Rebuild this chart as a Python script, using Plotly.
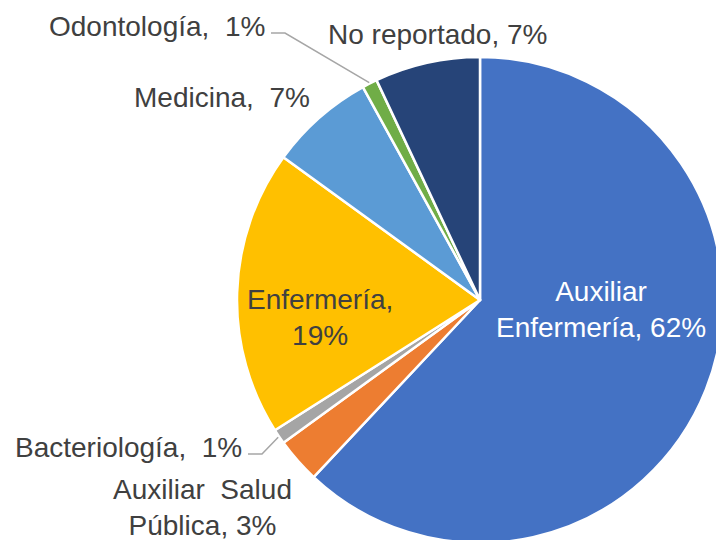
import math
import plotly.graph_objects as go

# ---- data ----
categories = ["Auxiliar Enfermería", "Auxiliar Salud Pública", "Bacteriología",
              "Enfermería", "Medicina", "Odontología", "No reportado"]
percentages = [62, 3, 1, 19, 7, 1, 7]
label_templates = ["Auxiliar<br>Enfermería, {}%", "Auxiliar  Salud<br>Pública, {}%",
                   "Bacteriología,  {}%", "Enfermería,<br>{}%", "Medicina,  {}%",
                   "Odontología,  {}%", "No reportado, {}%"]

# ---- style ----
colors = ["#4472C4", "#ED7D31", "#A5A5A5", "#FFC000", "#5B9BD5", "#70AD47", "#264478"]
W, H = 724, 544          # slightly larger than the window: pie is clipped at right/bottom
CX, CY, R = 480, 300, 243
FONT = "Liberation Sans, Arial, sans-serif"
FS = 28
# label placement (pixel anchor, xanchor, colour, leader?)
label_layout = [
    (601, 309, "center", "white", False),
    (203, 507, "center", "#404040", False),
    (244, 447, "right", "#404040", True),
    (320, 317, "center", "#404040", False),
    (222, 97, "center", "#404040", False),
    (267, 26, "right", "#404040", True),
    (437, 34, "center", "#404040", False),
]

def px(x):
    return x / W

def py(y):
    return 1 - y / H

fig = go.Figure(go.Pie(
    labels=categories,
    values=percentages,
    sort=False,
    direction="clockwise",
    rotation=0,
    textinfo="none",
    hoverinfo="skip",
    marker=dict(colors=colors, line=dict(color="white", width=2.5)),
    domain=dict(x=[px(CX - R), px(CX + R)], y=[py(CY + R), py(CY - R)]),
    showlegend=False,
))

total = sum(percentages)
cum = 0
annotations = []
shapes = []
for val, tmpl, (lx, ly, xa, col, leader) in zip(percentages, label_templates, label_layout):
    mid = (cum + val / 2) / total * 2 * math.pi
    cum += val
    annotations.append(dict(
        x=px(lx), y=py(ly), xref="paper", yref="paper",
        text=tmpl.format(val), showarrow=False,
        xanchor=xa, yanchor="middle", align="center",
        font=dict(family=FONT, size=FS, color=col),
    ))
    if leader:
        ex = CX + (R + 1) * math.sin(mid)
        ey = CY - (R + 1) * math.cos(mid)
        x0 = lx + 4
        y0 = ly + 7
        x1 = x0 + 14
        shapes.append(dict(
            type="path", xref="paper", yref="paper",
            path=f"M {px(x0)},{py(y0)} L {px(x1)},{py(y0)} L {px(ex)},{py(ey)}",
            line=dict(color="#A6A6A6", width=1.5),
        ))

fig.update_layout(
    width=W, height=H,
    margin=dict(l=0, r=0, t=0, b=0),
    paper_bgcolor="white", plot_bgcolor="white",
    annotations=annotations, shapes=shapes,
)

fig.write_html(
    "out.html",
    config={"displayModeBar": False},
    post_script="document.body.style.margin='0';document.body.style.overflow='hidden';"
                "document.documentElement.style.overflow='hidden';",
)
